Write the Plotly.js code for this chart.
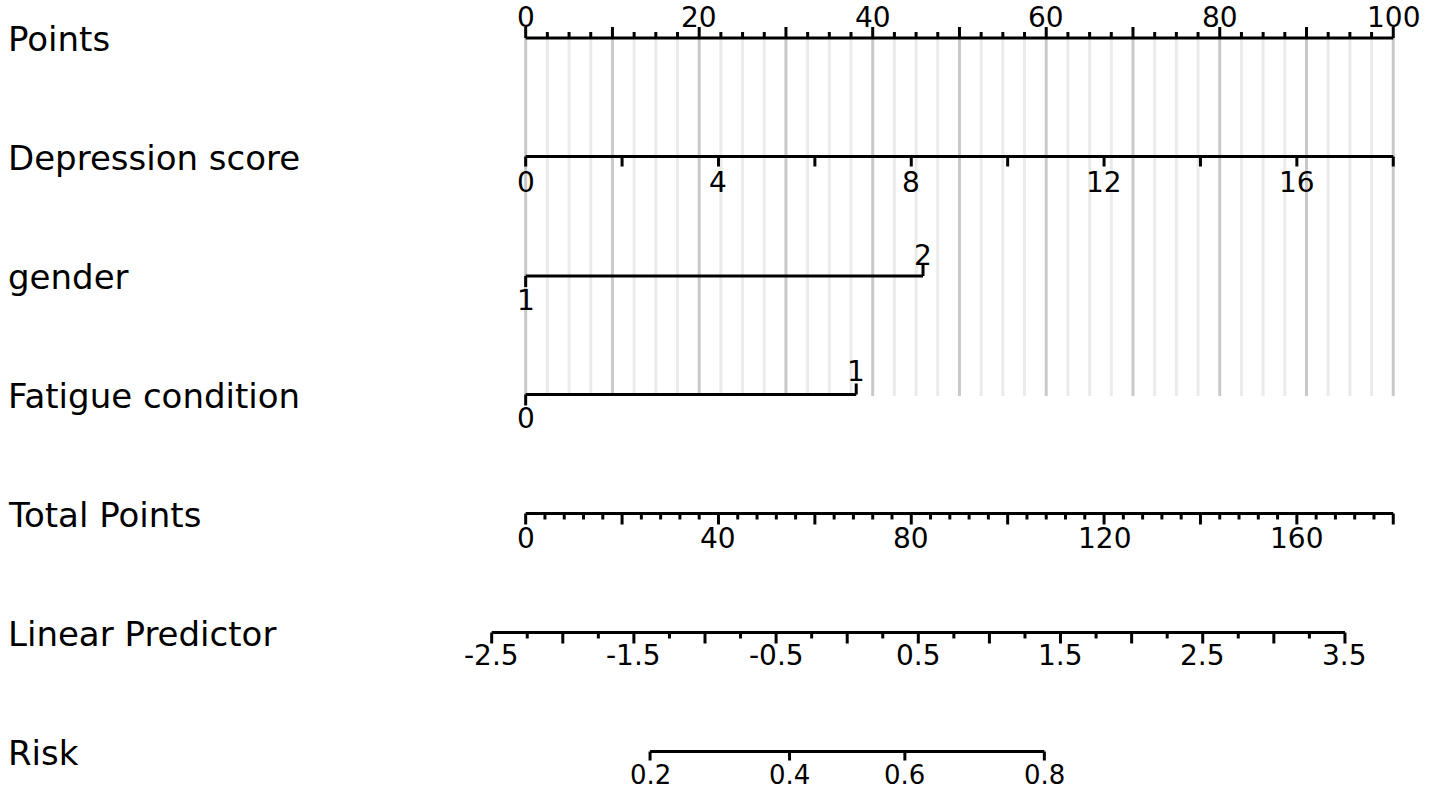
<!DOCTYPE html>
<html>
<head>
<meta charset="utf-8">
<script src="https://cdn.plot.ly/plotly-3.0.1.min.js"></script>
<style>
  html, body { margin: 0; padding: 0; background: #fff; }
  #nomogram { width: 1429px; height: 791px; }
</style>
</head>
<body>
<div id="nomogram"></div>
<script>
// ---- data ----
const rowNames = ["Points", "Depression score", "gender", "Fatigue condition", "Total Points", "Linear Predictor", "Risk"];

const pointsLabels = [0, 20, 40, 60, 80, 100];

const depressionLabels = [0, 4, 8, 12, 16];
const depressionMax = 18;            // 18 on the score = 100 points

const genderLevels = ["1", "2"];
const genderPoints = [0, 45.8];

const fatigueLevels = ["0", "1"];
const fatiguePoints = [0, 38.1];

const totalLabels = [0, 40, 80, 120, 160];
const totalMax = 180;

const lpLabels = [-2.5, -1.5, -0.5, 0.5, 1.5, 2.5, 3.5];
const lpAtZeroTotal = -2.261;
const lpPerTotal = 0.033893;

const riskLabels = [0.2, 0.4, 0.6, 0.8];

// ---- layout bits (pixel rows, y axis runs top->bottom) ----
const rowY = [38, 156.5, 276, 394.5, 513.5, 632.5, 751.5];
const labelFont = { family: "DejaVu Sans, Arial, sans-serif", size: 34, color: "#000" };
const tickFont = { family: "DejaVu Sans, Arial, sans-serif", size: 28, color: "#000" };
const riskFont = { family: "DejaVu Sans, Arial, sans-serif", size: 26, color: "#000" };

// every scale is placed on the points axis (0..100)
const depToX = v => v / depressionMax * 100;
const totalToX = t => t / totalMax * 100;
const lpToX = lp => totalToX((lp - lpAtZeroTotal) / lpPerTotal);
const riskToX = r => lpToX(Math.log(r / (1 - r)));

function steps(from, to, by) {
    const out = [];
    for (let v = from; v <= to + 1e-9; v += by) out.push(+v.toFixed(6));
    return out;
}

function segTrace(xs, y0, len, color, width) {
    const x = [], y = [];
    xs.forEach(v => { x.push(v, v, null); y.push(y0, y0 + len, null); });
    return { x, y, mode: "lines", type: "scatter", hoverinfo: "skip",
             line: { color: color, width: width } };
}

function hline(x0, x1, y0) {
    return { x: [x0, x1], y: [y0, y0], mode: "lines", type: "scatter", hoverinfo: "skip",
             line: { color: "#000", width: 3 } };
}

function label(x, y, text, font) {
    return { x: x, y: y, xref: "x", yref: "y", text: text, showarrow: false,
             xanchor: "center", yanchor: "middle", borderpad: 0, font: font || tickFont };
}

function tickLabels(values, toX, y, fmt, font) {
    return values.map(v => label(toX(v), y, fmt ? fmt(v) : String(v), font));
}

// ---- grid behind the point rows ----
const gridTop = rowY[0], gridBottom = 396;
const gridAll = steps(0, 100, 2.5);
const gridLight = gridAll.filter(v => v % 10 !== 0);
const gridDark = gridAll.filter(v => v % 10 === 0);

const traces = [
    segTrace(gridLight, gridTop, gridBottom - gridTop, "#ebebeb", 3),
    segTrace(gridDark, gridTop, gridBottom - gridTop, "#c9c9c9", 3),

    // Points
    hline(0, 100, rowY[0]),
    segTrace(steps(0, 100, 10), rowY[0], -11, "#000", 3),
    segTrace(steps(0, 100, 2.5).filter(v => v % 10 !== 0), rowY[0], -6, "#000", 3),

    // Depression score
    hline(0, 100, rowY[1]),
    segTrace(steps(0, depressionMax, 2).map(depToX), rowY[1], 10, "#000", 3),

    // gender
    hline(genderPoints[0], genderPoints[1], rowY[2]),
    segTrace([genderPoints[0]], rowY[2], 11, "#000", 3),
    segTrace([genderPoints[1]], rowY[2], -11, "#000", 3),

    // Fatigue condition
    hline(fatiguePoints[0], fatiguePoints[1], rowY[3]),
    segTrace([fatiguePoints[0]], rowY[3], 11, "#000", 3),
    segTrace([fatiguePoints[1]], rowY[3], -11, "#000", 3),

    // Total Points
    hline(0, 100, rowY[4]),
    segTrace(steps(0, totalMax, 20).map(totalToX), rowY[4], 11, "#000", 3),
    segTrace(steps(0, totalMax, 4).filter(v => v % 20 !== 0).map(totalToX), rowY[4], 6, "#000", 3),

    // Linear Predictor
    hline(lpToX(lpLabels[0]), lpToX(lpLabels[lpLabels.length - 1]), rowY[5]),
    segTrace(steps(-2.5, 3.5, 0.5).map(lpToX), rowY[5], 11, "#000", 3),
    segTrace(steps(-2.25, 3.25, 0.5).map(lpToX), rowY[5], 6, "#000", 3),

    // Risk
    hline(riskToX(riskLabels[0]), riskToX(riskLabels[riskLabels.length - 1]), rowY[6]),
    segTrace(riskLabels.map(riskToX), rowY[6], 9, "#000", 3)
];

const annotations = [].concat(
    rowNames.map((name, i) => ({
        x: 6 / 1429, y: rowY[i] + 1, xref: "paper", yref: "y", text: name,
        showarrow: false, xanchor: "left", yanchor: "middle", font: labelFont
    })),
    tickLabels(pointsLabels, v => v, 17),
    tickLabels(depressionLabels, depToX, 182),
    [
        label(genderPoints[0], 300, genderLevels[0]),
        label(genderPoints[1], 255, genderLevels[1]),
        label(fatiguePoints[0], 418, fatigueLevels[0]),
        label(fatiguePoints[1], 371, fatigueLevels[1])
    ],
    tickLabels(totalLabels, totalToX, 538),
    tickLabels(lpLabels, lpToX, 655),
    tickLabels(riskLabels, riskToX, 775, v => v.toFixed(1), riskFont)
);

const layout = {
    width: 1429,
    height: 791,
    margin: { l: 0, r: 0, t: 0, b: 0 },
    paper_bgcolor: "#fff",
    plot_bgcolor: "#fff",
    showlegend: false,
    xaxis: { range: [-60.59, 104.12], visible: false, fixedrange: true },
    yaxis: { range: [791, 0], visible: false, fixedrange: true },
    annotations: annotations
};

Plotly.newPlot("nomogram", traces, layout, { displayModeBar: false, staticPlot: true });
</script>
</body>
</html>
